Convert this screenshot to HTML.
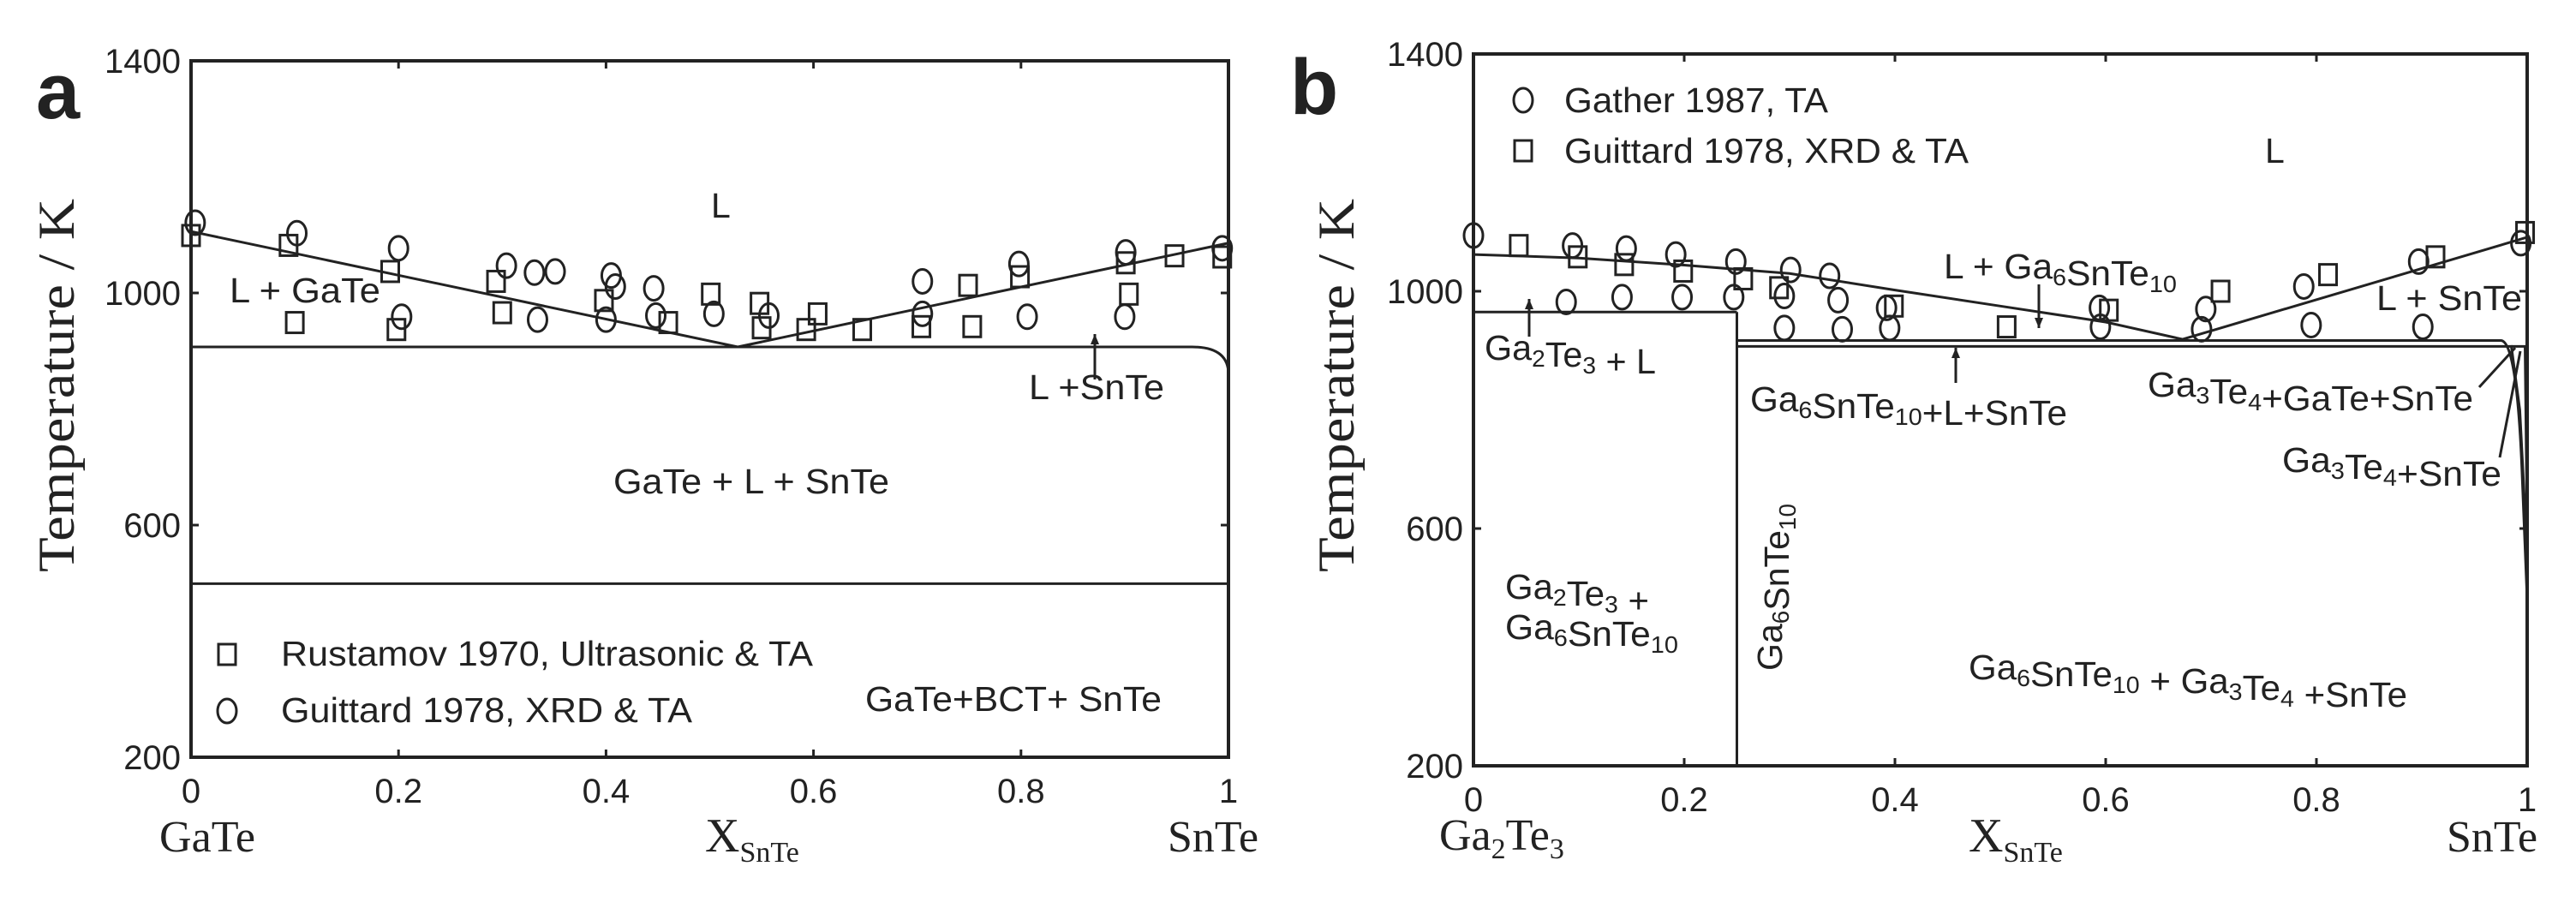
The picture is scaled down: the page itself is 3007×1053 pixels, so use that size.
<!DOCTYPE html>
<html><head><meta charset="utf-8"><style>
html,body{margin:0;padding:0;background:#fff;}
svg text{font-family:"Liberation Sans",Arial,sans-serif;fill:#222;}
.serif{font-family:"Liberation Serif","Times New Roman",serif;}
</style></head><body>
<svg id="fig" width="3007" height="1048" viewBox="0 0 3007 1048" xmlns="http://www.w3.org/2000/svg">
<rect width="3007" height="1048" fill="#fff"/>
<g id="pa"></g>
<g id="pb"></g>
</svg>
<script>
// ---------- Panel a data ----------
const aLiqX = [0, 0.527, 1];
const aLiqT = [1106, 907, 1086];
const aEutT = 907;
const aLowT = 499;
const aSqX = [0,0.094,0.1,0.192,0.198,0.294,0.3,0.398,0.46,0.501,0.548,0.55,0.593,0.604,0.647,0.704,0.753,0.749,0.799,0.901,0.904,0.948,0.994];
const aSqT = [1099,1082,949,1037,937,1020,966,987,949,998,982,940,937,964,937,942,942,1013,1028,1052,998,1064,1062];
const aCiX = [0.004,0.102,0.2,0.203,0.304,0.331,0.351,0.334,0.405,0.409,0.4,0.446,0.448,0.504,0.557,0.705,0.705,0.798,0.806,0.901,0.9,0.994];
const aCiT = [1121,1103,1077,959,1047,1035,1037,954,1030,1011,954,1008,961,964,961,1020,964,1050,959,1070,959,1077];
// ---------- Panel b data ----------
const bLiqX = [0,0.1,0.2,0.3,0.4,0.5,0.6,0.673,1];
const bLiqT = [1062,1056,1044,1030,1002,975,948,919,1091];
const bPeritT = 965;
const bCompX = 0.25;
const bEut1T = 917;
const bEut2T = 907;
const bCiX = [0,0.088,0.094,0.141,0.145,0.192,0.198,0.247,0.249,0.295,0.295,0.301,0.338,0.346,0.35,0.392,0.395,0.594,0.595,0.695,0.691,0.788,0.795,0.897,0.901,0.994];
const bCiT = [1094,982,1077,990,1072,1062,990,990,1050,992,938,1036,1026,985,936,972,938,972,940,970,936,1008,943,1050,940,1081];
const bSqX = [0.043,0.099,0.143,0.199,0.256,0.29,0.399,0.506,0.603,0.709,0.811,0.913,0.998];
const bSqT = [1077,1058,1045,1034,1021,1006,975,940,968,1000,1028,1058,1099];
const xTicks = [0,0.2,0.4,0.6,0.8,1];
const xTickLabels = ["0","0.2","0.4","0.6","0.8","1"];
const yTicks = [200,600,1000,1400];
const yTickLabels = ["200","600","1000","1400"];

const NS="http://www.w3.org/2000/svg";
function mk(parent,tag,attrs){const e=document.createElementNS(NS,tag);for(const k in attrs)e.setAttribute(k,attrs[k]);parent.appendChild(e);return e;}

function panel(g,L,R,T,B){
  const X=x=>L+x*(R-L);
  const Y=t=>T+(1400-t)*(B-T)/1200;
  let e=mk(g,'rect',{x:L,y:T,width:R-L,height:B-T,fill:'none',stroke:'#222','stroke-width':4});
  
  
  xTicks.forEach((v,i)=>{
    mk(g,'line',{x1:X(v),x2:X(v),y1:B,y2:B-9,stroke:'#222','stroke-width':3});
    mk(g,'line',{x1:X(v),x2:X(v),y1:T,y2:T+9,stroke:'#222','stroke-width':3});
    const t=mk(g,'text',{x:X(v),y:B+53,'font-size':40,'text-anchor':'middle'});
    t.textContent=xTickLabels[i];
    
    
  });
  yTicks.forEach((v,i)=>{
    mk(g,'line',{x1:L,x2:L+9,y1:Y(v),y2:Y(v),stroke:'#222','stroke-width':3});
    mk(g,'line',{x1:R,x2:R-9,y1:Y(v),y2:Y(v),stroke:'#222','stroke-width':3});
    const t=mk(g,'text',{x:L-12,y:Y(v)+14,'font-size':40,'text-anchor':'end'});
    t.textContent=yTickLabels[i];
    
    
  });
  return {X,Y};
}
function poly(g,X,Y,xs,ts,name,w){
  const p=mk(g,'polyline',{points:xs.map((x,i)=>X(x)+','+Y(ts[i])).join(' '),fill:'none',stroke:'#222','stroke-width':w||3});
  
  
  return p;
}
function sq(g,cx,cy,name){const r=mk(g,'rect',{x:cx-10,y:cy-12,width:20,height:24,fill:'none',stroke:'#222','stroke-width':3});
  
  }
function ci(g,cx,cy,name){const c=mk(g,'ellipse',{cx:cx,cy:cy,rx:11,ry:14,fill:'none',stroke:'#222','stroke-width':3});
  
  }
function txt(g,x,y,html,size,name,len,cls,extra){
  const t=mk(g,'text',Object.assign({x:x,y:y,'font-size':size},extra||{}));
  if(cls)t.setAttribute('class',cls);
  t.innerHTML=html;
  if(len){t.setAttribute('textLength',len);t.setAttribute('lengthAdjust','spacingAndGlyphs');}
  
  
  return t;
}
function arrow(g,x,y1,y2,name){
  const l=mk(g,'line',{x1:x,x2:x,y1:y1,y2:y2,stroke:'#222','stroke-width':3});
  
  
  const d=y2<y1?-1:1;
  mk(g,'path',{d:`M${x-5},${y2-d*12} L${x},${y2} L${x+5},${y2-d*12} Z`,fill:'#222'});
}
const sub=(s)=>`<tspan font-size="0.68em" dy="8">${s}</tspan><tspan dy="-8"></tspan>`;
const FS=41;

// ---------- Panel a ----------
(function(){
  const g=document.getElementById('pa');
  const {X,Y}=panel(g,223,1434,71,884);
  poly(g,X,Y,aLiqX,aLiqT,'liquidus-line-a');
  const e=mk(g,'path',{d:`M${X(0)},${Y(aEutT)} L${X(0.965)},${Y(aEutT)} Q${X(1)},${Y(aEutT)} ${X(1)},${Y(860)}`,fill:'none',stroke:'#222','stroke-width':3});
  
  
  poly(g,X,Y,[0,1],[aLowT,aLowT],'low-transition-line-a');
  aSqX.forEach((x,i)=>sq(g,X(x),Y(aSqT[i]),'rustamov-point'));
  aCiX.forEach((x,i)=>ci(g,X(x),Y(aCiT[i]),'guittard-point'));
  txt(g,42,138,'a',92,'panel-label-a',null,null,{'font-weight':'bold'});
  txt(g,830,254,'L',FS,'region-label-liquid');
  txt(g,268,353,'L + GaTe',FS,'region-label-l-gate',176);
  txt(g,1201,466,'L +SnTe',FS,'region-label-l-snte',158);
  arrow(g,1278,443,390,'arrow-l-snte');
  txt(g,716,576,'GaTe + L + SnTe',FS,'region-label-gate-l-snte',322);
  sq(g,265,764,'legend-square-icon');
  txt(g,328,777,'Rustamov 1970, Ultrasonic &amp; TA',FS,'legend-entry-rustamov',621);
  ci(g,265,830,'legend-circle-icon');
  txt(g,328,843,'Guittard 1978, XRD &amp; TA',FS,'legend-entry-guittard',480);
  txt(g,1010,830,'GaTe+BCT+ SnTe',FS,'region-label-gate-bct-snte',346);
  txt(g,186,994,'GaTe',52,'x-axis-left-label',112,'serif');
  txt(g,823,994,'X'+'<tspan font-size="34" dy="12">SnTe</tspan>',56,'x-axis-title-a',null,'serif');
  txt(g,1363,994,'SnTe',52,'x-axis-right-label',106,'serif');
  txt(g,0,0,'Temperature / K',60,'y-axis-title-a',436,'serif',{transform:'translate(86,668) rotate(-90)'});
})();

// ---------- Panel b ----------
(function(){
  const g=document.getElementById('pb');
  const {X,Y}=panel(g,1720,2950,63,894);
  poly(g,X,Y,bLiqX,bLiqT,'liquidus-line-b');
  poly(g,X,Y,[0,bCompX],[bPeritT,bPeritT],'peritectic-line-b');
  poly(g,X,Y,[bCompX,bCompX],[bPeritT,200],'ga6snte10-composition-line');
  let e=mk(g,'path',{d:`M${X(bCompX)},${Y(bEut1T)} L${X(0.975)},${Y(bEut1T)} Q${X(0.99)},${Y(bEut1T)} ${X(0.995)},${Y(700)} L${X(1)},${Y(480)}`,fill:'none',stroke:'#222','stroke-width':3});
  
  
  e=mk(g,'path',{d:`M${X(bCompX)},${Y(bEut2T)} L${X(0.985)},${Y(bEut2T)} L${X(0.993)},${Y(800)} L${X(1)},${Y(560)}`,fill:'none',stroke:'#222','stroke-width':3});
  
  
  e=mk(g,'path',{d:`M${X(0.985)},${Y(bEut2T)} L${X(0.998)},${Y(bEut2T)} L${X(1)},${Y(600)}`,fill:'none',stroke:'#222','stroke-width':3});
  
  
  bCiX.forEach((x,i)=>ci(g,X(x),Y(bCiT[i]),'gather-point'));
  bSqX.forEach((x,i)=>sq(g,X(x),Y(bSqT[i]),'guittard-point-b'));
  txt(g,1506,133,'b',92,'panel-label-b',null,null,{'font-weight':'bold'});
  ci(g,1778,117,'legend-circle-icon-b');
  txt(g,1826,131,'Gather 1987, TA',FS,'legend-entry-gather',308);
  sq(g,1778,176,'legend-square-icon-b');
  txt(g,1826,190,'Guittard 1978, XRD &amp; TA',FS,'legend-entry-guittard-b',472);
  txt(g,2644,190,'L',FS,'region-label-liquid-b');
  txt(g,2269,325,'L + Ga'+sub('6')+'SnTe'+sub('10'),FS,'region-label-l-ga6snte10',272);
  arrow(g,2380,332,383,'arrow-l-ga6snte10');
  txt(g,2774,362,'L + SnTe',FS,'region-label-l-snte-b',170);
  arrow(g,1785,393,349,'arrow-ga2te3-l');
  txt(g,1733,420,'Ga'+sub('2')+'Te'+sub('3')+' + L',FS,'region-label-ga2te3-l',200);
  arrow(g,2283,447,406,'arrow-ga6snte10-l-snte');
  txt(g,2043,480,'Ga'+sub('6')+'SnTe'+sub('10')+'+L+SnTe',FS,'region-label-ga6snte10-l-snte',370);
  txt(g,2507,463,'Ga'+sub('3')+'Te'+sub('4')+'+GaTe+SnTe',FS,'region-label-ga3te4-gate-snte',380);
  e=mk(g,'line',{x1:2894,y1:452,x2:2936,y2:406,stroke:'#222','stroke-width':3});
  
  
  txt(g,2664,551,'Ga'+sub('3')+'Te'+sub('4')+'+SnTe',FS,'region-label-ga3te4-snte',256);
  e=mk(g,'line',{x1:2918,y1:534,x2:2942,y2:410,stroke:'#222','stroke-width':3});
  
  
  txt(g,1757,699,'Ga'+sub('2')+'Te'+sub('3')+' +',FS,'region-label-ga2te3-ga6snte10-line1',168);
  txt(g,1757,746,'Ga'+sub('6')+'SnTe'+sub('10'),FS,'region-label-ga2te3-ga6snte10-line2',202);
  txt(g,0,0,'Ga'+sub('6')+'SnTe'+sub('10'),FS,'compound-label-ga6snte10',195,null,{transform:'translate(2080,783) rotate(-90)'});
  txt(g,2298,793,'Ga'+sub('6')+'SnTe'+sub('10')+' + Ga'+sub('3')+'Te'+sub('4')+' +SnTe',FS,'region-label-ga6snte10-ga3te4-snte',512);
  txt(g,1680,992,'Ga'+'<tspan font-size="34" dy="10">2</tspan><tspan dy="-10">Te</tspan><tspan font-size="34" dy="10">3</tspan>',52,'x-axis-left-label-b',null,'serif');
  txt(g,2298,994,'X'+'<tspan font-size="34" dy="12">SnTe</tspan>',56,'x-axis-title-b',null,'serif');
  txt(g,2856,994,'SnTe',52,'x-axis-right-label-b',106,'serif');
  txt(g,0,0,'Temperature / K',60,'y-axis-title-b',436,'serif',{transform:'translate(1580,668) rotate(-90)'});
})();
</script>
</body></html>
